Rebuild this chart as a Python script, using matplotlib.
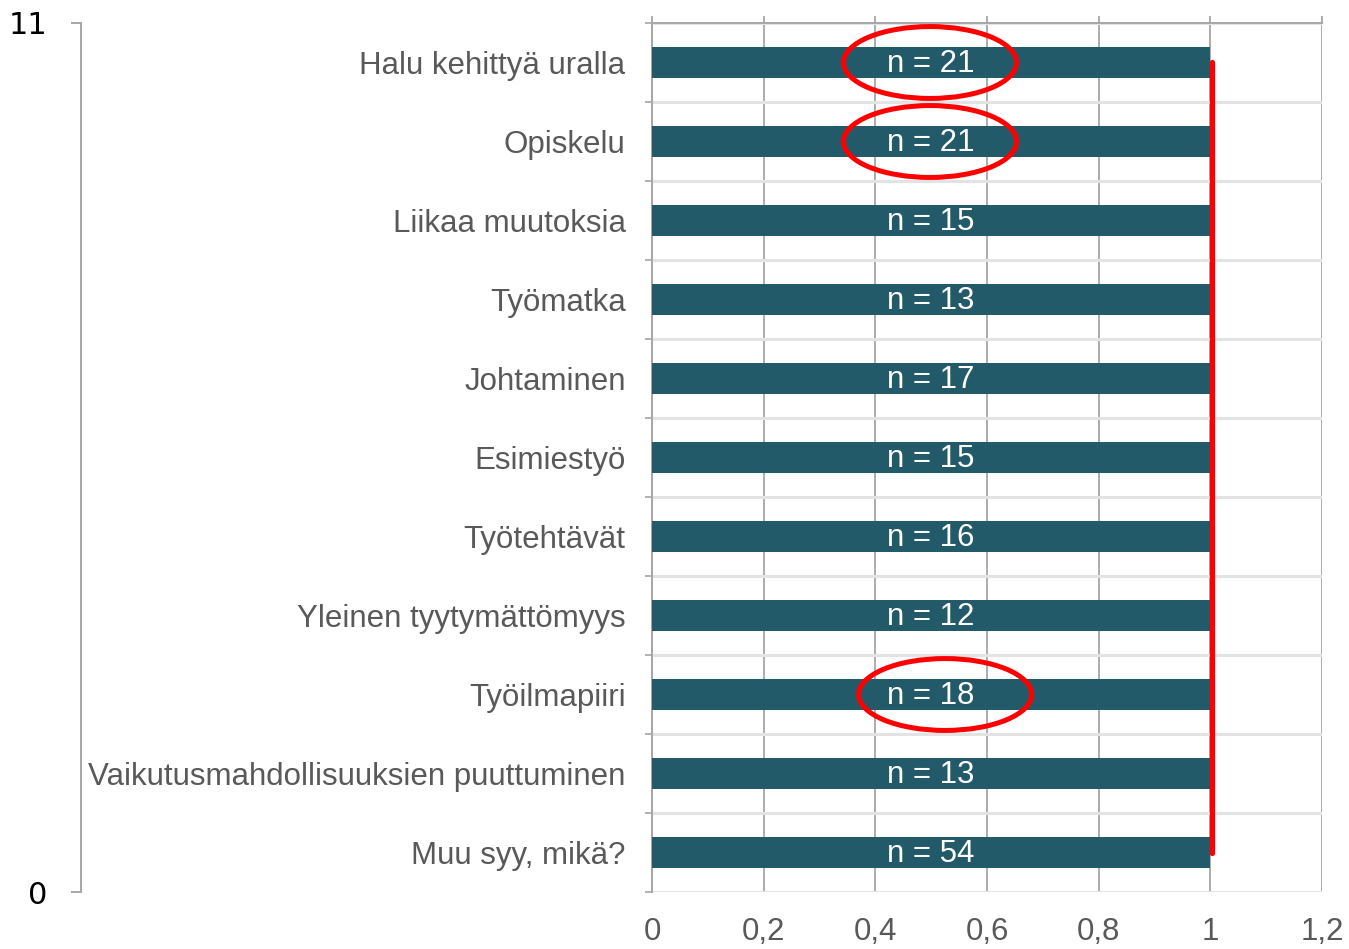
import matplotlib
matplotlib.use("Agg")
import matplotlib.pyplot as plt
from matplotlib.patches import Ellipse
from matplotlib.ticker import FuncFormatter, FixedLocator

categories = ["Halu kehittyä uralla", "Opiskelu", "Liikaa muutoksia", "Työmatka",
              "Johtaminen", "Esimiestyö", "Työtehtävät", "Yleinen tyytymättömyys",
              "Työilmapiiri", "Vaikutusmahdollisuuksien puuttuminen", "Muu syy, mikä?"]
values = [1, 1, 1, 1, 1, 1, 1, 1, 1, 1, 1]
counts = [21, 21, 15, 13, 17, 15, 16, 12, 18, 13, 54]
highlighted = ["Halu kehittyä uralla", "Opiskelu", "Työilmapiiri"]
xticks = [0, 0.2, 0.4, 0.6, 0.8, 1.0, 1.2]
left_axis_ticks = [0, 11]

plt.rcParams['font.family'] = ['Liberation Sans', 'DejaVu Sans']

W, H = 1349, 949
fig = plt.figure(figsize=(W / 100, H / 100), dpi=100)

# main axes
ax = fig.add_axes([652 / W, 57 / H, 670 / W, 869 / H])
n = len(categories)
ypos = list(range(n))
bar_color = '#235a69'
ax.barh(ypos, values, height=0.4, color=bar_color, zorder=3)
ax.set_ylim(n - 0.5, -0.5)
ax.set_xlim(0, 1.2)

FS = 22.5
for y, c, v in zip(ypos, counts, values):
    ax.text(v / 2, y + 0.02, f"n = {c}", color='white', ha='center', va='center',
            fontsize=FS, zorder=5)

# axes styling
for s in ['right', 'bottom']:
    ax.spines[s].set_visible(False)
ax.spines['left'].set_color('#a6a6a6')
ax.spines['left'].set_linewidth(1.4)
ax.spines['top'].set_color('#a6a6a6')
ax.spines['top'].set_linewidth(1.4)

ax.set_yticks(ypos)
ax.set_yticklabels(categories, fontsize=FS, color='#595959')
ax.tick_params(axis='y', which='major', length=0, pad=19)
ax.yaxis.set_minor_locator(FixedLocator([i - 0.5 for i in range(n + 1)]))
ax.tick_params(axis='y', which='minor', length=5, width=1.2, color='#a6a6a6')
ax.grid(axis='y', which='minor', color='#e3e3e3', linewidth=2.2, zorder=0)

ax.set_xticks(xticks)
ax.xaxis.set_major_formatter(FuncFormatter(lambda v, p: f"{v:g}".replace('.', ',')))
ax.tick_params(axis='x', which='major', length=0, pad=13, labelsize=FS, labelcolor='#595959',
               top=True, bottom=False)
ax.grid(axis='x', which='major', color='#a6a6a6', linewidth=1.3, zorder=1)
ax.xaxis.set_tick_params(which='major', top=True, length=5, color='#a6a6a6', width=1.3,
                         direction='out')
ax.xaxis.set_tick_params(bottom=False, labelbottom=True, labeltop=False)

# red vertical line at x=1 spanning first to last bar
ax.plot([1.003, 1.003], [0, n - 1], color='#ff0000', linewidth=3.8, zorder=6,
        solid_capstyle='round')

# red ellipses around highlighted labels
offsets = {"Työilmapiiri": 0.525}
for cat in highlighted:
    i = categories.index(cat)
    cx = offsets.get(cat, 0.498)
    e = Ellipse((cx, i), width=0.31, height=0.91, fill=False, edgecolor='#ff0000',
                linewidth=3.6, zorder=7)
    ax.add_patch(e)

# secondary left axis
ax2 = fig.add_axes([81 / W, 57 / H, 0.001, 869 / H])
ax2.set_ylim(0, 11)
ax2.set_xlim(0, 1)
for s in ['right', 'top', 'bottom']:
    ax2.spines[s].set_visible(False)
ax2.spines['left'].set_color('#a6a6a6')
ax2.spines['left'].set_linewidth(1.4)
ax2.set_xticks([])
ax2.set_yticks(left_axis_ticks)
ax2.set_yticklabels([str(t) for t in left_axis_ticks], fontsize=22, color='black',
                    family=['DejaVu Sans'])
ax2.tick_params(axis='y', length=7, width=1.4, color='#a6a6a6', pad=17)
ax2.patch.set_visible(False)

fig.savefig('out.png', dpi=100)
